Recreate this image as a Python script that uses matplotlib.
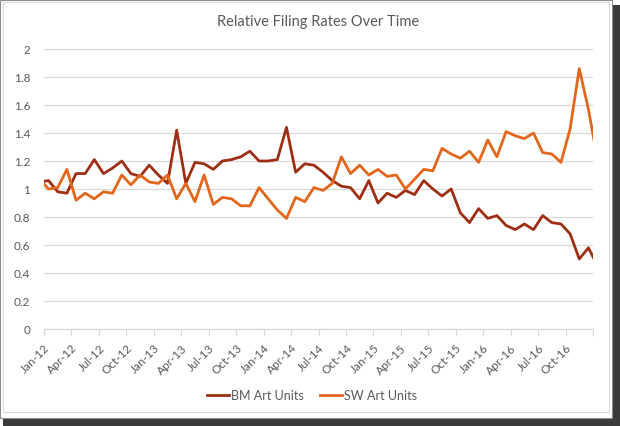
import matplotlib
matplotlib.use("Agg")
import matplotlib.pyplot as plt
import matplotlib.transforms as mtransforms
from matplotlib.patches import Rectangle

plt.rcParams['font.family'] = ['Lato', 'DejaVu Sans']

# Monthly values, Dec-11 .. Jan-17 (first and last are clipped by the axis edges)
months = ['Dec-11',
          'Jan-12', 'Feb-12', 'Mar-12', 'Apr-12', 'May-12', 'Jun-12', 'Jul-12', 'Aug-12', 'Sep-12', 'Oct-12', 'Nov-12', 'Dec-12',
          'Jan-13', 'Feb-13', 'Mar-13', 'Apr-13', 'May-13', 'Jun-13', 'Jul-13', 'Aug-13', 'Sep-13', 'Oct-13', 'Nov-13', 'Dec-13',
          'Jan-14', 'Feb-14', 'Mar-14', 'Apr-14', 'May-14', 'Jun-14', 'Jul-14', 'Aug-14', 'Sep-14', 'Oct-14', 'Nov-14', 'Dec-14',
          'Jan-15', 'Feb-15', 'Mar-15', 'Apr-15', 'May-15', 'Jun-15', 'Jul-15', 'Aug-15', 'Sep-15', 'Oct-15', 'Nov-15', 'Dec-15',
          'Jan-16', 'Feb-16', 'Mar-16', 'Apr-16', 'May-16', 'Jun-16', 'Jul-16', 'Aug-16', 'Sep-16', 'Oct-16', 'Nov-16', 'Dec-16',
          'Jan-17']

bm_values = [1.05,
             1.06, 0.98, 0.97, 1.11, 1.11, 1.21, 1.11, 1.15, 1.20, 1.11, 1.09, 1.17,
             1.10, 1.04, 1.42, 1.04, 1.19, 1.18, 1.14, 1.20, 1.21, 1.23, 1.27, 1.20,
             1.20, 1.21, 1.44, 1.12, 1.18, 1.17, 1.12, 1.06, 1.02, 1.01, 0.93, 1.06,
             0.90, 0.97, 0.94, 0.99, 0.96, 1.06, 1.00, 0.95, 1.00, 0.83, 0.76, 0.86,
             0.79, 0.81, 0.74, 0.71, 0.75, 0.71, 0.81, 0.76, 0.75, 0.68, 0.50, 0.58,
             0.45]

sw_values = [1.07,
             1.00, 1.01, 1.14, 0.92, 0.97, 0.93, 0.98, 0.97, 1.10, 1.03, 1.10, 1.05,
             1.04, 1.10, 0.93, 1.04, 0.91, 1.10, 0.89, 0.94, 0.93, 0.88, 0.88, 1.01,
             0.93, 0.85, 0.79, 0.94, 0.91, 1.01, 0.99, 1.04, 1.23, 1.11, 1.17, 1.10,
             1.14, 1.09, 1.10, 1.00, 1.07, 1.14, 1.13, 1.29, 1.25, 1.22, 1.27, 1.19,
             1.35, 1.23, 1.41, 1.38, 1.36, 1.40, 1.26, 1.25, 1.19, 1.43, 1.86, 1.57,
             1.21]

tick_labels = ['Jan-12', 'Apr-12', 'Jul-12', 'Oct-12', 'Jan-13', 'Apr-13', 'Jul-13',
               'Oct-13', 'Jan-14', 'Apr-14', 'Jul-14', 'Oct-14', 'Jan-15', 'Apr-15',
               'Jul-15', 'Oct-15', 'Jan-16', 'Apr-16', 'Jul-16', 'Oct-16', '']

series_names = ['BM Art Units', 'SW Art Units']
colors = ['#9e2f14', '#e2661b']
text_color = '#595959'
grid_color = '#d9d9d9'

W, H = 620, 427
fig = plt.figure(figsize=(W / 100, H / 100), dpi=100)

# outer frame with shadow
fig.patches.append(Rectangle((3 / W, 0 / H), (W - 3) / W, (H - 6) / H, transform=fig.transFigure,
                             facecolor='#3a3a3a', edgecolor='none', zorder=0))
fig.patches.append(Rectangle((0 / W, 8 / H), (W - 8) / W, (H - 9) / H, transform=fig.transFigure,
                             facecolor='white', edgecolor='#8c8c8c', linewidth=0.8, zorder=1))
fig.patches.append(Rectangle((3 / W, 14 / H), (W - 14) / W, (H - 17) / H, transform=fig.transFigure,
                             facecolor='white', edgecolor=grid_color, linewidth=0.8, zorder=2))

left, right, top, bottom = 44, 593, 50, 330
ax = fig.add_axes([left / W, (H - bottom) / H, (right - left) / W, (bottom - top) / H], zorder=3)
ax.patch.set_alpha(0)

x = [i - 0.5 for i in range(len(months))]
for vals, name, c in zip([bm_values, sw_values], series_names, colors):
    ax.plot(x, vals, color=c, linewidth=2.0, label=name, solid_joinstyle='round', zorder=3)

ax.set_xlim(0, 60)
ax.set_ylim(0, 2)
ax.set_yticks([i * 0.2 for i in range(11)])
ax.set_yticklabels(['0', '0.2', '0.4', '0.6', '0.8', '1', '1.2', '1.4', '1.6', '1.8', '2'])
ax.grid(axis='y', color=grid_color, linewidth=0.9, zorder=0)
ax.set_axisbelow(True)

ax.set_xticks(list(range(0, 61, 3)))
ax.set_xticklabels(tick_labels, rotation=45, ha='right', va='top', rotation_mode='anchor')
offset = mtransforms.ScaledTranslation(6 / 100, 0, fig.dpi_scale_trans)
for lbl in ax.get_xticklabels():
    lbl.set_transform(lbl.get_transform() + offset)

for s in ['left', 'right', 'top']:
    ax.spines[s].set_visible(False)
ax.spines['bottom'].set_color(grid_color)
ax.spines['bottom'].set_linewidth(0.9)
ax.tick_params(axis='x', colors=grid_color, length=5, width=0.9, labelcolor=text_color,
               labelsize=8.5, pad=4)
ax.tick_params(axis='y', length=0, labelcolor=text_color, labelsize=8.5, pad=10)

fig.text(318 / W, 1 - 22 / H, 'Relative Filing Rates Over Time', ha='center', va='center',
         fontsize=10.5, color=text_color, zorder=4)

leg = ax.legend(loc='center', bbox_to_anchor=(312 / W, 1 - 396 / H), bbox_transform=fig.transFigure,
                ncol=2, frameon=False, fontsize=9, handlelength=1.8, handletextpad=0.15,
                columnspacing=1.3, labelcolor=text_color)

fig.savefig('out.png', dpi=100)
